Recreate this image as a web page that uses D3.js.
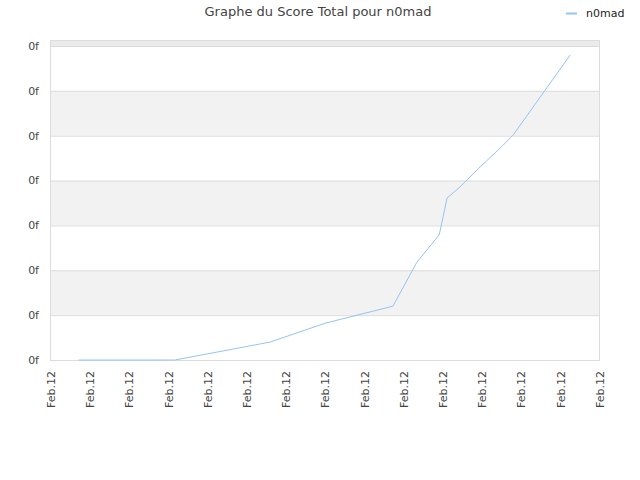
<!DOCTYPE html>
<html>
<head>
<meta charset="utf-8">
<script src="https://cdn.jsdelivr.net/npm/d3@7.9.0/dist/d3.min.js"></script>
<style>
  body { margin: 0; background: #fff; }
  svg { font-family: "DejaVu Sans", Verdana, sans-serif; }
</style>
</head>
<body>
<svg id="chart" width="640" height="480"></svg>
<script>
// chart data
const seriesName = "n0mad";
const xPos = [0.71, 3.16, 5.59, 6.99, 8.72, 9.33, 9.90, 10.10, 10.43, 10.94, 11.53, 11.79, 13.24];
const scores = [0, 0, 0.40, 0.82, 1.20, 2.18, 2.79, 3.61, 3.86, 4.30, 4.79, 5.02, 6.80];
const xTicks = d3.range(0, 15);
const xTickLabels = xTicks.map(() => "Feb.12");
const yTicks = d3.range(0, 8);
const yTickLabel = "0f";

const svg = d3.select("#chart");
const plotLeft = 50, plotRight = 600, plotTop = 40, plotBottom = 360;

const x = d3.scaleLinear().domain([0, 14]).range([plotLeft + 1, plotRight]);
const y = d3.scaleLinear().domain([0, 7]).range([plotBottom, 46]);
const yMax = y.invert(plotTop);

// background bands
svg.append("rect")
  .attr("x", plotLeft).attr("y", plotTop)
  .attr("width", plotRight - plotLeft).attr("height", plotBottom - plotTop)
  .attr("fill", "#fff");

const bandStarts = yTicks.filter((d) => d % 2 === 1);
svg.selectAll(".band")
  .data(bandStarts)
  .enter()
  .append("rect")
  .attr("x", plotLeft)
  .attr("width", plotRight - plotLeft)
  .attr("y", (d) => y(Math.min(d + 1, yMax)))
  .attr("height", (d) => y(d) - y(Math.min(d + 1, yMax)))
  .attr("fill", (d) => (d === 7 ? "#ebebeb" : "#f2f2f2"));

// grid lines
svg.selectAll(".grid")
  .data(yTicks)
  .enter()
  .append("line")
  .attr("x1", plotLeft).attr("x2", plotRight)
  .attr("y1", (d) => y(d) + 0.5).attr("y2", (d) => y(d) + 0.5)
  .attr("stroke", "#dcdcdc");

// frame
svg.append("rect")
  .attr("x", plotLeft + 0.5).attr("y", plotTop + 0.5)
  .attr("width", plotRight - plotLeft - 1).attr("height", plotBottom - plotTop)
  .attr("fill", "none")
  .attr("stroke", "#dcdcdc");

// y labels
svg.selectAll(".ylab")
  .data(yTicks)
  .enter()
  .append("text")
  .attr("x", 39)
  .attr("y", (d) => y(d))
  .attr("dy", "0.35em")
  .attr("text-anchor", "end")
  .attr("font-size", 11)
  .attr("fill", "#444")
  .text(yTickLabel);

// x labels
svg.selectAll(".xlab")
  .data(xTicks)
  .enter()
  .append("text")
  .attr("transform", (d) => `translate(${x(d)},371) rotate(-90)`)
  .attr("dy", "0.35em")
  .attr("text-anchor", "end")
  .attr("font-size", 11)
  .attr("fill", "#444")
  .text((d, i) => xTickLabels[i]);

// the line
const line = d3.line()
  .x((d, i) => x(xPos[i]))
  .y((d) => y(d));

svg.append("path")
  .datum(scores)
  .attr("d", line)
  .attr("fill", "none")
  .attr("stroke", "#94c4f4")
  .attr("stroke-width", 1);

// title
svg.append("text")
  .attr("x", 318)
  .attr("y", 16)
  .attr("text-anchor", "middle")
  .attr("font-size", 13)
  .attr("fill", "#444")
  .text("Graphe du Score Total pour " + seriesName);

// legend
svg.append("line")
  .attr("x1", 566).attr("x2", 577)
  .attr("y1", 13.5).attr("y2", 13.5)
  .attr("stroke", "#94c4f4")
  .attr("stroke-width", 2);

svg.append("text")
  .attr("x", 586)
  .attr("y", 17)
  .attr("font-size", 11)
  .attr("fill", "#222")
  .text(seriesName);
</script>
</body>
</html>
